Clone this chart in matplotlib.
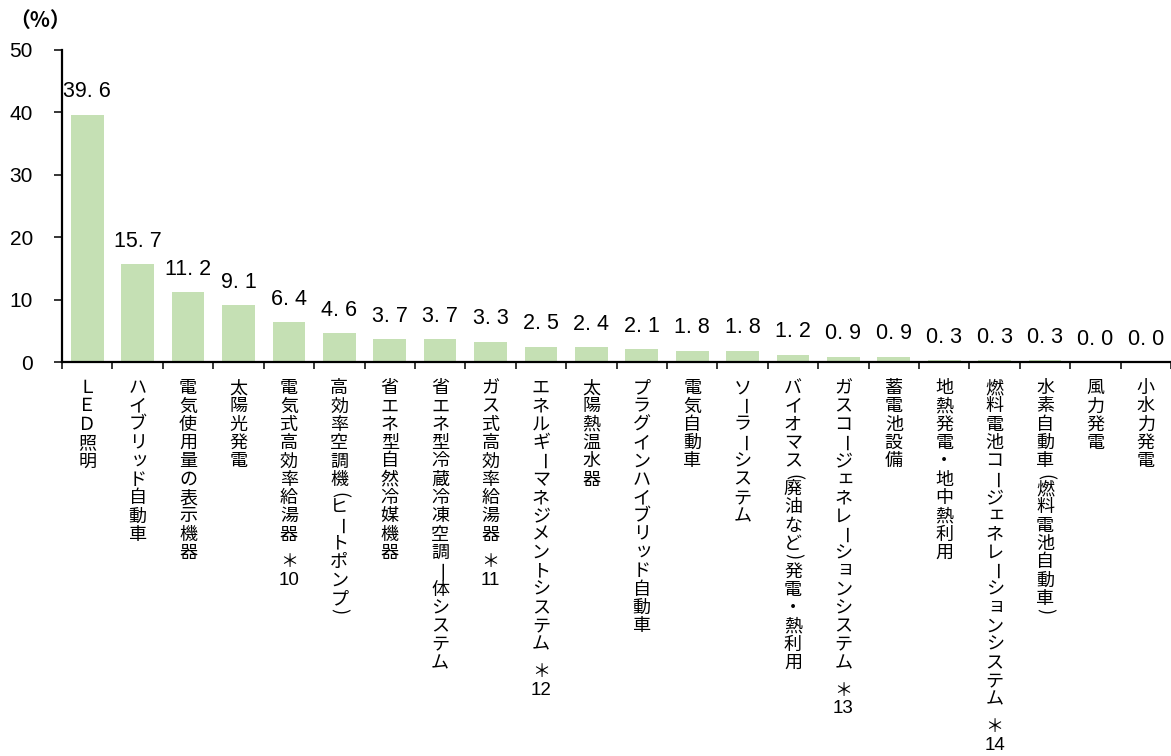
import matplotlib
matplotlib.use("Agg")
import matplotlib.pyplot as plt

# Data
categories = [
    "ＬＥＤ照明",
    "ハイブリッド自動車",
    "電気使用量の表示機器",
    "太陽光発電",
    "電気式高効率給湯器 ＊10",
    "高効率空調機（ヒートポンプ）",
    "省エネ型自然冷媒機器",
    "省エネ型冷蔵冷凍空調一体システム",
    "ガス式高効率給湯器 ＊11",
    "エネルギーマネジメントシステム ＊12",
    "太陽熱温水器",
    "プラグインハイブリッド自動車",
    "電気自動車",
    "ソーラーシステム",
    "バイオマス（廃油など）発電・熱利用",
    "ガスコージェネレーションシステム ＊13",
    "蓄電池設備",
    "地熱発電・地中熱利用",
    "燃料電池コージェネレーションシステム ＊14",
    "水素自動車（燃料電池自動車）",
    "風力発電",
    "小水力発電",
]
values = [39.6, 15.7, 11.2, 9.1, 6.4, 4.6, 3.7, 3.7, 3.3, 2.5, 2.4,
          2.1, 1.8, 1.8, 1.2, 0.9, 0.9, 0.3, 0.3, 0.3, 0.0, 0.0]
yticks = [0, 10, 20, 30, 40, 50]

CJK = ["Noto Sans CJK JP", "DejaVu Sans"]
BAR_COLOR = "#c5e0b4"

fig = plt.figure(figsize=(11.71, 7.56), dpi=100)
ax = fig.add_axes([0.053, 0.521, 0.947, 0.413])

x = list(range(len(categories)))
ax.bar(x, values, width=0.65, color=BAR_COLOR, zorder=2)

ax.set_xlim(-0.5, len(categories) - 0.5)
ax.set_ylim(0, 50)
ax.set_yticks(yticks)
ax.set_yticklabels([str(t) for t in yticks], family="Liberation Sans", fontsize=15)
ax.tick_params(axis="y", direction="out", length=6, width=1.1, pad=15)

# category separators on the x axis
ax.set_xticks([i - 0.5 for i in range(len(categories) + 1)])
ax.set_xticklabels([])
ax.tick_params(axis="x", direction="out", length=5, width=1.1)

for s in ("top", "right"):
    ax.spines[s].set_visible(False)
for s in ("left", "bottom"):
    ax.spines[s].set_linewidth(1.6)
    ax.spines[s].set_zorder(3)

# value labels
for i, v in enumerate(values):
    ax.annotate(f"{v:.1f}".replace(".", ". "), xy=(i, v), xytext=(0, 9),
                textcoords="offset points", ha="center", va="bottom",
                family="Liberation Sans", fontsize=15.5)

# vertical (tategaki) category labels
PITCH = 13.2          # points per character cell
START = 18.7          # points below the axis for the first cell centre
ROTATED = {"ー": "ー", "一": "一", "（": "(", "）": ")"}
SMALL = set("ッョェィャュォァ")


def tokenize(label):
    tokens = []
    j = 0
    while j < len(label):
        ch = label[j]
        if ch.isascii() and ch.isdigit():
            k = j
            while k < len(label) and label[k].isdigit():
                k += 1
            tokens.append(label[j:k])
            j = k
        else:
            tokens.append(ch)
            j += 1
    return tokens


def draw_vertical(i, label):
    y = START
    for tok in tokenize(label):
        if tok == " ":
            y += PITCH * 0.5
            continue
        step = 0.5 if tok in ("（", "）") else 1.0
        cy = y
        dx, dy = 0, 0
        rot = 0
        text = tok
        family = CJK
        size = 13
        if tok in ROTATED:
            text = ROTATED[tok]
            rot = -90
        if tok in SMALL:
            dx, dy = 1.5, 1.5
        if tok == "（":
            cy = y - PITCH * 0.15
        elif tok == "）":
            cy = y - PITCH * 0.35
        if tok.isdigit():
            family = "Liberation Sans"
            size = 13.5
        ax.annotate(text, xy=(i, 0), xycoords="data",
                    xytext=(dx, -cy + dy), textcoords="offset points",
                    ha="center", va="center", rotation=rot, rotation_mode="anchor",
                    family=family, fontsize=size, annotation_clip=False)
        y += PITCH * step


for i, lab in enumerate(categories):
    draw_vertical(i, lab)

fig.text(0.008, 0.973, "（%）", family=CJK, fontsize=15, va="center", ha="left",
         fontweight="bold")

fig.savefig("out.png", dpi=100)
